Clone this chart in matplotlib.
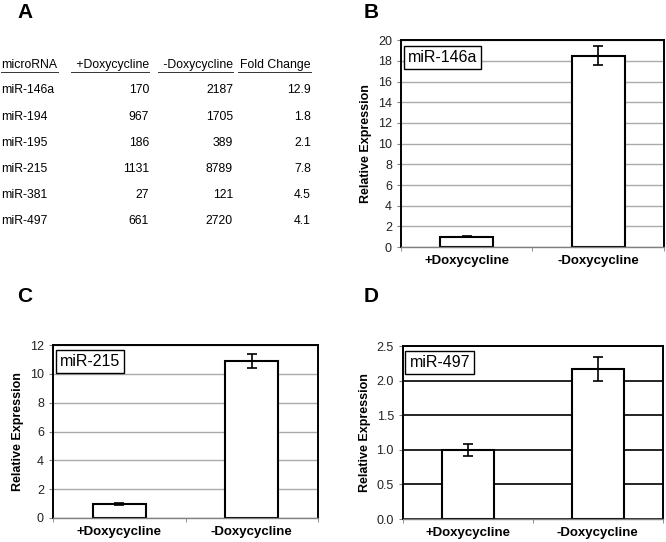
import matplotlib
matplotlib.use("Agg")
import matplotlib.pyplot as plt
from matplotlib.lines import Line2D

plt.rcParams['font.family'] = ['Liberation Sans', 'DejaVu Sans']

# table data (panel A)
mirnas = ['miR-146a', 'miR-194', 'miR-195', 'miR-215', 'miR-381', 'miR-497']
plus_dox = [170, 967, 186, 1131, 27, 661]
minus_dox = [2187, 1705, 389, 8789, 121, 2720]
fold_change = [12.9, 1.8, 2.1, 7.8, 4.5, 4.1]
headers = ['microRNA', ' +Doxycycline', ' -Doxycycline', 'Fold Change']

# bar data (panels B-D)
conditions = ['+Doxycycline', '-Doxycycline']
mir146a_vals = [1.0, 18.5]
mir146a_err = [0.06, 0.95]
mir215_vals = [1.0, 10.9]
mir215_err = [0.07, 0.5]
mir497_vals = [1.0, 2.17]
mir497_err = [0.09, 0.17]

fig = plt.figure(figsize=(6.66, 5.42), dpi=100)

# ---- panel A: table ----
fig.text(17/666, 1-13/542, 'A', fontsize=15, fontweight='bold', ha='left', va='center')
col_x = [1/666, 149/666, 233/666, 311/666]
col_ha = ['left', 'right', 'right', 'right']
fs = 8.8
hy = 1 - 65/542
for i, h in enumerate(headers):
    fig.text(col_x[i], hy, h, fontsize=fs, ha=col_ha[i], va='center')
row_y = [90, 117, 143, 169, 195, 221]
for r in range(len(mirnas)):
    y = 1 - row_y[r]/542
    fig.text(col_x[0], y, mirnas[r], fontsize=fs, ha='left', va='center')
    fig.text(col_x[1], y, str(plus_dox[r]), fontsize=fs, ha='right', va='center')
    fig.text(col_x[2], y, str(minus_dox[r]), fontsize=fs, ha='right', va='center')
    fig.text(col_x[3], y, str(fold_change[r]), fontsize=fs, ha='right', va='center')

# header underlines
ul_y = 1 - 72/542
for x0, x1 in [(1, 58), (71, 149), (158, 233), (238, 311)]:
    fig.add_artist(Line2D([x0/666, x1/666], [ul_y, ul_y], color='#333333', lw=0.7))


def bar_panel(rect, vals, errs, ymax, step, name, letter, letter_pos, grid_color, grid_lw, fmt):
    ax = fig.add_axes(rect)
    ax.set_axisbelow(True)
    ax.yaxis.grid(True, color=grid_color, lw=grid_lw)
    ax.bar([0, 1], vals, width=0.4, color='white', edgecolor='black', lw=1.5, zorder=2)
    ax.errorbar([0, 1], vals, yerr=errs, fmt='none', ecolor='black', elinewidth=1.2,
                capsize=3.5, capthick=1.2, zorder=3)
    ax.set_xlim(-0.5, 1.5)
    ax.set_ylim(0, ymax)
    ticks = [i*step for i in range(int(round(ymax/step)) + 1)]
    ax.set_yticks(ticks)
    ax.set_yticklabels([fmt.format(t) for t in ticks])
    ax.set_xticks([0, 1])
    ax.set_xticklabels(conditions, fontweight='bold', fontsize=9.5)
    ax.set_xticks([-0.5, 0.5, 1.5], minor=True)
    ax.tick_params(axis='x', which='major', length=0, pad=6)
    ax.tick_params(axis='x', which='minor', length=3, color='gray')
    ax.tick_params(axis='y', labelsize=9, length=3, color='gray', labelcolor='#222222')
    for s in ['top', 'right', 'left']:
        ax.spines[s].set_linewidth(1.4)
        ax.spines[s].set_color('black')
    ax.spines['bottom'].set_color('gray')
    ax.spines['bottom'].set_linewidth(1.0)
    ax.set_ylabel('Relative Expression', fontweight='bold', fontsize=9)
    ax.text(0.025, 0.95, name, transform=ax.transAxes, fontsize=11.5, ha='left', va='top',
            bbox=dict(boxstyle='square,pad=0.25', fc='white', ec='black', lw=1.0), zorder=5)
    fig.text(letter_pos[0]/666, 1-letter_pos[1]/542, letter, fontsize=15,
             fontweight='bold', ha='left', va='center')
    return ax


bar_panel([0.602, 0.544, 0.395, 0.382], mir146a_vals, mir146a_err, 20, 2, 'miR-146a',
          'B', (364, 13), '#aaaaaa', 1.0, '{:.0f}')
bar_panel([0.0796, 0.0443, 0.398, 0.319], mir215_vals, mir215_err, 12, 2, 'miR-215',
          'C', (17, 297), '#aaaaaa', 1.0, '{:.0f}')
bar_panel([0.605, 0.0424, 0.390, 0.319], mir497_vals, mir497_err, 2.5, 0.5, 'miR-497',
          'D', (364, 297), 'black', 1.2, '{:.1f}')

fig.savefig('out.png', dpi=100)
